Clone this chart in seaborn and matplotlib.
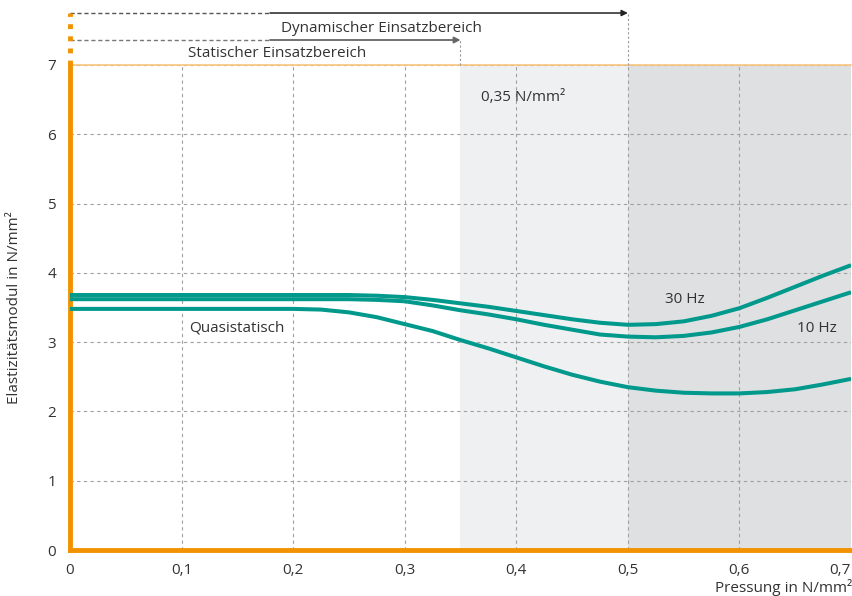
import pandas as pd
import matplotlib.pyplot as plt
import seaborn as sns

# pressure values (N/mm²) and read-off moduli
pressung = [0, 0.1, 0.2, 0.225, 0.25, 0.275, 0.3, 0.325, 0.35, 0.375, 0.4, 0.425,
            0.45, 0.475, 0.5, 0.525, 0.55, 0.575, 0.6, 0.625, 0.65, 0.675, 0.7]
hz30 = [3.68, 3.68, 3.68, 3.68, 3.68, 3.67, 3.65, 3.61, 3.56, 3.51, 3.45, 3.39,
        3.33, 3.28, 3.25, 3.26, 3.30, 3.38, 3.49, 3.64, 3.80, 3.96, 4.11]
hz10 = [3.62, 3.62, 3.62, 3.62, 3.62, 3.61, 3.59, 3.53, 3.46, 3.40, 3.33, 3.25,
        3.18, 3.11, 3.08, 3.07, 3.09, 3.14, 3.22, 3.33, 3.46, 3.59, 3.72]
quasi = [3.48, 3.48, 3.48, 3.47, 3.43, 3.36, 3.26, 3.16, 3.03, 2.91, 2.78, 2.65,
         2.53, 2.43, 2.35, 2.30, 2.27, 2.26, 2.26, 2.28, 2.32, 2.39, 2.47]
serien = ["30 Hz", "10 Hz", "Quasistatisch"]

xticks = [0, 0.1, 0.2, 0.3, 0.4, 0.5, 0.6, 0.7]
xticklabels = ["0", "0,1", "0,2", "0,3", "0,4", "0,5", "0,6", "0,7"]
yticks = [0, 1, 2, 3, 4, 5, 6, 7]

df = pd.DataFrame({
    "x": pressung * 3,
    "y": hz30 + hz10 + quasi,
    "serie": [s for s in serien for _ in pressung],
})

sns.set_style("white")
plt.rcParams['font.family'] = ['Open Sans', 'DejaVu Sans']

ORANGE = "#f39200"
TEAL = "#00998c"
TXT = "#333333"
FS = 11

fig = plt.figure(figsize=(8.52, 5.96), dpi=100)
ax = fig.add_axes([70/852, 46/596, 781/852, 485/596])

# shaded ranges
ax.axvspan(0.35, 0.5, color="#eff0f2", lw=0, zorder=0)
ax.axvspan(0.5, 0.7, color="#dfe0e2", lw=0, zorder=0)

sns.lineplot(data=df, x="x", y="y", hue="serie",
             palette={s: TEAL for s in serien}, linewidth=2.9,
             legend=False, ax=ax, zorder=3)
for ln in ax.get_lines():
    ln.set_solid_capstyle("butt")

ax.set_xlim(0, 0.7)
ax.set_ylim(0, 7)
ax.set_xticks(xticks)
ax.set_xticklabels(xticklabels)
ax.set_yticks(yticks)
ax.tick_params(length=0, labelsize=FS, colors=TXT)
ax.tick_params(axis="x", pad=9)
ax.tick_params(axis="y", pad=10)
ax.get_xticklabels()[-1].set_horizontalalignment("right")
ax.grid(True, ls=(0, (3, 3)), color="#a0a0a0", lw=0.8)
for gl in ax.get_xgridlines() + ax.get_ygridlines():
    gl.set_zorder(1)

for s in ["top", "right"]:
    ax.spines[s].set_visible(False)
ax.spines["left"].set_color(ORANGE)
ax.spines["left"].set_linewidth(3.5)
ax.spines["bottom"].set_color(ORANGE)
ax.spines["bottom"].set_linewidth(3.5)
ax.axhline(7, color="#f7c57e", lw=1.2, zorder=2, clip_on=False)

ax.set_xlabel("")
ax.set_ylabel("")
fig.text(15/852, 1 - 308/596, "Elastizitätsmodul in N/mm²", rotation=90,
         ha="center", va="center", fontsize=FS, color=TXT)
fig.text(1.0, 1 - 588/596, "Pressung in N/mm²", ha="right", va="center",
         fontsize=FS, color=TXT)

# labels in the plot
ax.text(0.107, 3.2, "Quasistatisch", fontsize=FS, color=TXT, va="center")
ax.text(0.533, 3.62, "30 Hz", fontsize=FS, color=TXT, va="center")
ax.text(0.652, 3.19, "10 Hz", fontsize=FS, color=TXT, va="center")
ax.text(0.368, 6.53, "0,35 N/mm²", fontsize=FS, color=TXT, va="center")

# operating ranges above the plot
y_dyn = 7 + (65 - 13) / 69.3
y_sta = 7 + (65 - 40) / 69.3
x_dash = (270 - 70) / 781 * 0.7
ax.plot([0, x_dash], [y_dyn, y_dyn], ls=(0, (3, 2)), color="#555555", lw=1, clip_on=False)
ax.plot([0, x_dash], [y_sta, y_sta], ls=(0, (3, 2)), color="#777777", lw=1, clip_on=False)
ax.annotate("", xy=(0.5, y_dyn), xytext=(x_dash, y_dyn), annotation_clip=False,
            arrowprops=dict(arrowstyle="-|>", color="#222222", lw=1.1,
                            mutation_scale=9, shrinkA=0, shrinkB=0))
ax.annotate("", xy=(0.35, y_sta), xytext=(x_dash, y_sta), annotation_clip=False,
            arrowprops=dict(arrowstyle="-|>", color="#666666", lw=1.3,
                            mutation_scale=9, shrinkA=0, shrinkB=0))
ax.plot([0.5, 0.5], [7, y_dyn], ls=(0, (2, 2)), color="#999999", lw=0.8, clip_on=False)
ax.plot([0.35, 0.35], [7, y_sta], ls=(0, (2, 2)), color="#999999", lw=0.8, clip_on=False)
ax.plot([0, 0], [7, y_dyn], ls=(0, (1, 1.5)), color=ORANGE, lw=3.5,
        clip_on=False, solid_capstyle="butt", dash_capstyle="butt")
ax.text(0.279, 7 + (65 - 28) / 69.3, "Dynamischer Einsatzbereich", ha="center",
        va="center", fontsize=FS, color=TXT)
ax.text(0.1855, 7 + (65 - 53) / 69.3, "Statischer Einsatzbereich", ha="center",
        va="center", fontsize=FS, color=TXT)

fig.savefig("out.png", dpi=100)
